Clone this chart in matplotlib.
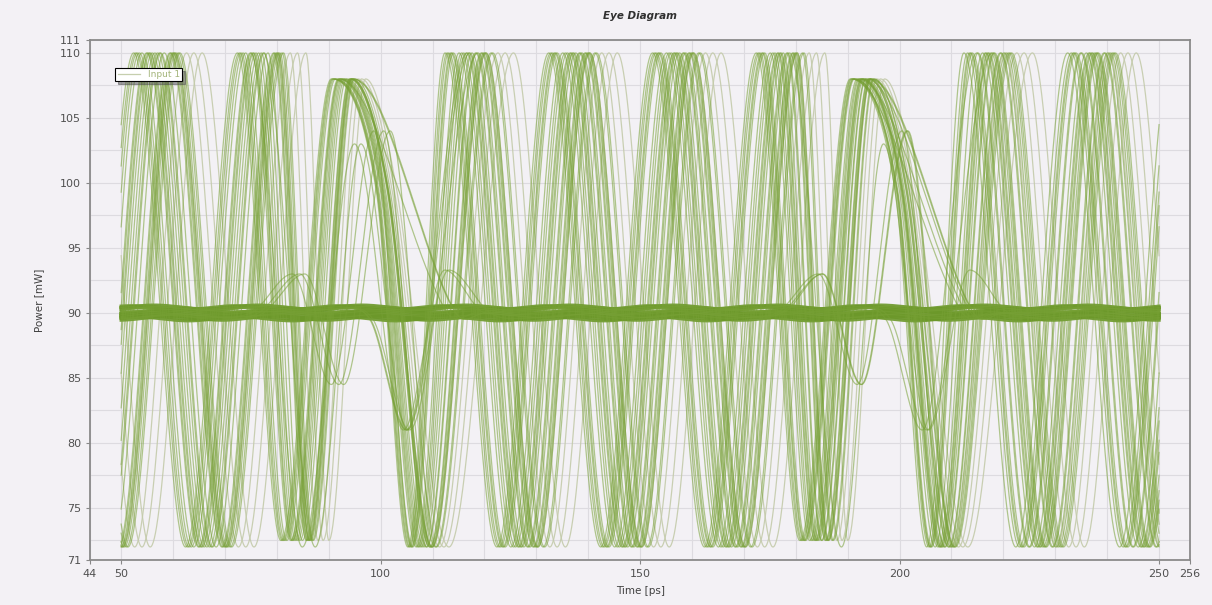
import numpy as np
import matplotlib
matplotlib.use('Agg')
import matplotlib.pyplot as plt

# levels (mW) and carrier timing (ps)
HIGH, LOW, IDLE = 110.0, 72.0, 90.0
FIRST_PEAK = 57.0
HALF = 10.0
T_START, T_END = 50.0, 250.0

# per trace: timing jitter (ps), bit pattern of the 3 slots, transition variant, idle offset
dark_jitter = [-4.6, -4.2, -3.9, -3.3, -3.0, -2.7, -2.1, -1.9, -1.4, -1.0, -0.7, -0.3,
               0.0, 0.4, 0.6, 1.1, 1.3, 1.8, 2.0, 2.4, 2.9, 3.1, 3.6, 3.9,
               4.3, 4.6, -3.5, -1.6, 0.9, 2.6, -2.4, 1.5, 3.3, -0.5, 0.2, 4.0]
dark_bits = ["111", "110", "111", "011", "111", "000", "101", "111", "110", "111", "000", "011",
             "111", "100", "111", "001", "111", "010", "000", "111", "110", "111", "101", "000",
             "111", "011", "111", "100", "001", "111", "000", "010", "110", "111", "011", "101"]
dark_kind = "aaaaaabbabababaaababaaaaaaaabbaaabba"
idle_offsets = [-0.4, -0.27, -0.13, 0.0, 0.13, 0.27, 0.4, -0.33, 0.2, -0.07, 0.33, -0.2]

# traces that stay in the idle level the whole window (the thick band at 90 mW)
band_jitter = [-4.0, -2.5, -1.2, 0.3, 1.7, 3.2, 4.5, -3.3, -0.6, 2.4, 5.1, -5.0, 0.9, -1.8]
band_offsets = [-0.45, -0.35, -0.22, -0.1, 0.0, 0.1, 0.22, 0.35, 0.45, -0.4, 0.05, 0.4, -0.28, 0.3]

light_jitter = [3.3, 5.6, 7.0, 8.6]

# transitions around each slot boundary: times, levels, share of jitter applied
through_t = [84.0, 92.8, 100.5, 108.0]
through_v = [72.5, 108.0, 99.5, 72.0]
through_k = [0.7, 0.5, 0.3, 0.6]
fall_a_t = [84.0, 92.8, 113.0, 119.0]
fall_a_v = [72.5, 108.0, 90.2, 90.0]
fall_a_k = [0.7, 0.5, 0.3, 0.3]
fall_b_t = [87.0, 96.0, 105.0, 113.0, 121.0]
fall_b_v = [72.0, 103.0, 81.0, 93.3, 90.0]
fall_b_k = [1.0, 0.5, 0.3, 0.3, 0.3]
rise_a_t = [76.0, 84.0, 91.5, 100.0, 108.0]
rise_a_v = [90.0, 93.0, 84.5, 104.0, 72.0]
rise_a_k = [0.3, 0.3, 0.3, 0.4, 0.6]
rise_b_t = [90.0, 98.0, 105.0]
rise_b_v = [90.0, 89.5, 81.0]
rise_b_k = [0.3, 0.3, 0.3]

ON_WIN = [(-40, 77), (117, 177), (217, 320)]
OFF_WIN = [(-40, 67), (127, 167), (227, 320)]
RIPPLE = 0.15


def smooth(pts, t):
    tk = np.array([p[0] for p in pts])
    vk = np.array([p[1] for p in pts])
    n = len(tk)
    d = np.zeros(n)
    for i in range(1, n - 1):
        if (vk[i] - vk[i - 1]) * (vk[i + 1] - vk[i]) > 0:
            d[i] = (vk[i + 1] - vk[i - 1]) / (tk[i + 1] - tk[i - 1])
    idx = np.clip(np.searchsorted(tk, t) - 1, 0, n - 2)
    h = tk[idx + 1] - tk[idx]
    s = (t - tk[idx]) / h
    return ((2 * s**3 - 3 * s**2 + 1) * vk[idx] + (s**3 - 2 * s**2 + s) * h * d[idx]
            + (-2 * s**3 + 3 * s**2) * vk[idx + 1] + (s**3 - s**2) * h * d[idx + 1])


def trace_points(j, bits, kind, off):
    pts = []
    for s, b in enumerate(bits):
        lo, hi = ON_WIN[s] if b == "1" else OFF_WIN[s]
        for m in range(-10, 28):
            base = FIRST_PEAK + HALF * m
            if lo <= base <= hi:
                if b == "1":
                    pts.append((base + j, HIGH if m % 2 == 0 else LOW))
                else:
                    pts.append((base + j, IDLE + off + (RIPPLE if m % 2 == 0 else -RIPPLE)))
        if s < 2:
            B = 100.0 * s
            pair = bits[s:s + 2]
            if pair == "11":
                tt, vv, kk = through_t, through_v, through_k
            elif pair == "10":
                tt, vv, kk = (fall_a_t, fall_a_v, fall_a_k) if kind == "a" else (fall_b_t, fall_b_v, fall_b_k)
            elif pair == "01":
                tt, vv, kk = (rise_a_t, rise_a_v, rise_a_k) if kind == "a" else (rise_b_t, rise_b_v, rise_b_k)
            else:
                tt = [77.0 + 10 * i for i in range(5)]
                vv = [IDLE + off + (RIPPLE if i % 2 == 0 else -RIPPLE) for i in range(5)]
                kk = [1.0] * 5
            for a, v, k in zip(tt, vv, kk):
                pts.append((a + B + k * j, v))
    pts.sort()
    return pts


t = np.arange(T_START, T_END + 0.05, 0.1)

fig = plt.figure(figsize=(12.12, 6.05), dpi=100, facecolor="#f3f1f5")
ax = fig.add_axes([0.0743, 0.0744, 0.9077, 0.8596])
ax.set_facecolor("#f3f1f5")

for j in light_jitter:
    y = smooth(trace_points(j, "111", "a", 0.0), t)
    ax.plot(t, y, color="#c4cbab", lw=0.9, alpha=0.9, zorder=2)

for j, off in zip(band_jitter, band_offsets):
    y = smooth(trace_points(j, "000", "a", off), t)
    ax.plot(t, y, color="#6c982a", lw=2.4, alpha=0.9, zorder=3)

for i, j in enumerate(dark_jitter):
    off = idle_offsets[i % len(idle_offsets)]
    y = smooth(trace_points(j, dark_bits[i], dark_kind[i], off), t)
    ax.plot(t, y, color="#76a034", lw=0.9, alpha=0.55, zorder=3,
            label="Input 1" if i == 0 else None)

ax.set_xlim(44, 256)
ax.set_ylim(71, 111)
ax.set_xticks([44, 50, 100, 150, 200, 250, 256])
ax.set_xticks(np.arange(60, 250, 10), minor=True)
ax.set_yticks([71, 75, 80, 85, 90, 95, 100, 105, 110, 111])
ax.set_yticks(np.arange(72.5, 110, 2.5), minor=True)
ax.grid(True, which="both", color="#dddbe0", lw=0.8, zorder=0)
ax.set_axisbelow(True)
ax.tick_params(which="major", length=3, color="#888888", labelsize=8, labelcolor="#505050")
ax.tick_params(which="minor", length=0)
for sp in ax.spines.values():
    sp.set_color("#8a8a8a")
    sp.set_linewidth(1.3)

ax.set_xlabel("Time [ps]", fontsize=7.5, color="#404040")
ax.set_ylabel("Power [mW]", fontsize=7.5, color="#404040")
ax.xaxis.set_label_coords(0.5, -0.05)
ax.yaxis.set_label_coords(-0.042, 0.5)
ax.set_title("Eye Diagram", fontsize=7.5, fontweight="bold", fontstyle="italic",
             color="#303030", y=1.025)

leg = ax.legend(loc="upper left", bbox_to_anchor=(0.019, 0.955), fontsize=6.5,
                fancybox=False, shadow=True, framealpha=1, edgecolor="black",
                labelcolor="#a4b57a", handlelength=2.5, borderpad=0.25)
leg.get_frame().set_linewidth(0.8)
for h in leg.legend_handles:
    h.set_alpha(0.8)
    h.set_color("#b8c49a")

fig.savefig("out.png", dpi=100, facecolor=fig.get_facecolor())
